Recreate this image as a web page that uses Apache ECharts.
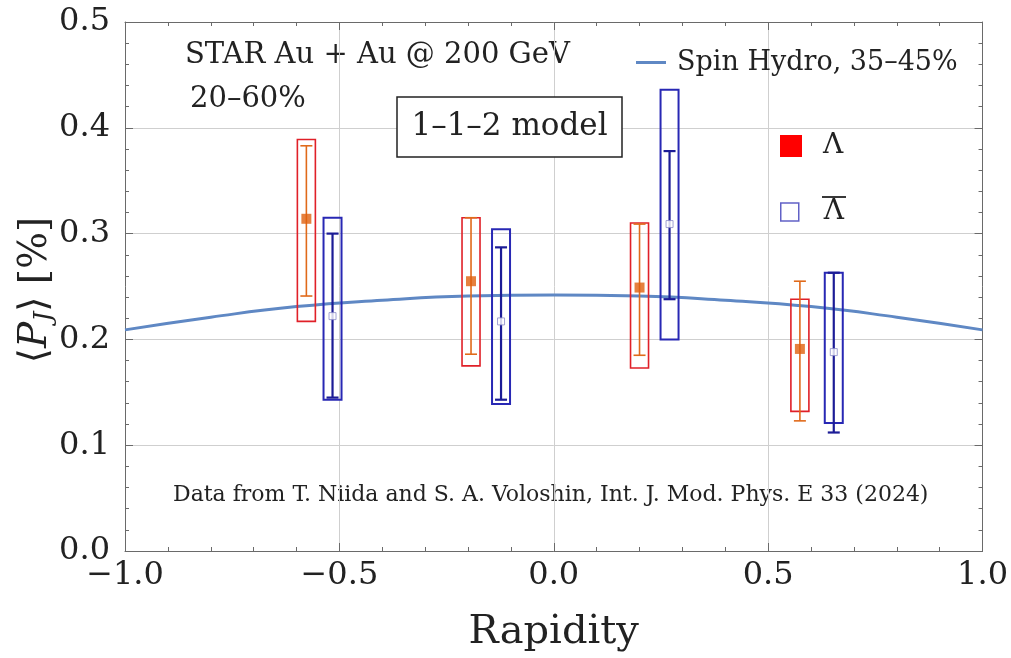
<!DOCTYPE html>
<html>
<head>
<meta charset="utf-8">
<script src="https://cdn.jsdelivr.net/npm/echarts@6/dist/echarts.min.js"></script>
<style>html,body{margin:0;padding:0;background:#fff}#c{width:1011px;height:658px}</style>
</head>
<body>
<div id="c"></div>
<script>
// Lambda data
const rapL = [-0.577, -0.193, 0.200, 0.574];
const valL = [0.314, 0.255, 0.249, 0.191];
const statLoL = [0.241, 0.186, 0.185, 0.123];
const statHiL = [0.383, 0.315, 0.309, 0.255];
const sysLoL = [0.217, 0.175, 0.173, 0.132];
const sysHiL = [0.389, 0.315, 0.310, 0.238];
// Anti-Lambda data
const rapA = [-0.516, -0.123, 0.270, 0.653];
const valA = [0.222, 0.217, 0.309, 0.188];
const statLoA = [0.145, 0.143, 0.238, 0.112];
const statHiA = [0.300, 0.287, 0.378, 0.263];
const sysLoA = [0.143, 0.139, 0.200, 0.121];
const sysHiA = [0.315, 0.304, 0.436, 0.263];
// Spin hydro curve (35-45%)
const hydroRap = [-1.0, -0.8, -0.6, -0.4, -0.2, 0.0, 0.2, 0.4, 0.6, 0.8, 1.0];
const hydroVal = [0.209, 0.221, 0.231, 0.237, 0.241, 0.242, 0.241, 0.237, 0.231, 0.221, 0.209];
// Ticks
const xTicks = [-1.0, -0.5, 0.0, 0.5, 1.0];
const yTicks = [0.0, 0.1, 0.2, 0.3, 0.4, 0.5];

const FONT = 'DejaVu Serif';
const nameL = 'Λ';
const nameA = 'antiΛ';

function boxSeries(rap, lo, hi, color, w) {
  return {
    type: 'custom', silent: true, z: 3,
    data: rap.map((r, i) => [r, lo[i], hi[i]]),
    renderItem: function (params, api) {
      const p1 = api.coord([api.value(0), api.value(2)]);
      const p2 = api.coord([api.value(0), api.value(1)]);
      return { type: 'rect', shape: { x: p1[0] - 9, y: p1[1], width: 18, height: p2[1] - p1[1] },
        style: { fill: 'none', stroke: color, lineWidth: w } };
    }
  };
}
function errSeries(rap, lo, hi, color, w) {
  return {
    type: 'custom', silent: true, z: 4,
    data: rap.map((r, i) => [r, lo[i], hi[i]]),
    renderItem: function (params, api) {
      const p1 = api.coord([api.value(0), api.value(2)]);
      const p2 = api.coord([api.value(0), api.value(1)]);
      const st = { stroke: color, lineWidth: w };
      return { type: 'group', children: [
        { type: 'line', shape: { x1: p1[0], y1: p1[1], x2: p2[0], y2: p2[1] }, style: st },
        { type: 'line', shape: { x1: p1[0] - 6, y1: p1[1], x2: p1[0] + 6, y2: p1[1] }, style: st },
        { type: 'line', shape: { x1: p2[0] - 6, y1: p2[1], x2: p2[0] + 6, y2: p2[1] }, style: st }
      ] };
    }
  };
}

const fmt = v => (Math.abs(v) < 1e-9 ? '0.0' : v.toFixed(1).replace('-', '−'));

const chart = echarts.init(document.getElementById('c'), null, { renderer: 'canvas' });
const axisLineStyle = { color: '#6a6a6a', width: 1 };
chart.setOption({
  animation: false,
  backgroundColor: '#fff',
  textStyle: { fontFamily: FONT },
  grid: { left: 125, right: 28, top: 22, bottom: 107, show: false },
  legend: [
    { data: [{ name: 'Spin Hydro, 35–45%', icon: 'rect', itemStyle: { color: '#5f88c4' } }],
      left: 631, top: 44, itemWidth: 30, itemHeight: 3, itemGap: 10,
      textStyle: { fontFamily: FONT, fontSize: 27, color: '#222', padding: [0, 0, 0, 6] } },
    { data: [{ name: nameL, icon: 'rect', itemStyle: { color: '#ff0000', borderWidth: 0, opacity: 1 } }],
      left: 775, top: 127, itemWidth: 22, itemHeight: 22,
      textStyle: { fontFamily: FONT, fontSize: 28, color: '#222', padding: [0, 0, 0, 16] } },
    { data: [{ name: nameA, icon: 'rect', itemStyle: { color: '#ffffff', borderColor: '#3a3ab8', borderWidth: 1.5 } }],
      left: 775, top: 193, itemWidth: 18, itemHeight: 18, formatter: () => 'Λ',
      textStyle: { fontFamily: FONT, fontSize: 28, color: '#222', padding: [0, 0, 0, 20] } }
  ],
  xAxis: [
    { type: 'value', min: -1, max: 1, interval: 0.5,
      axisLine: { show: true, onZero: false, lineStyle: axisLineStyle },
      axisTick: { show: true, inside: true, length: 8, lineStyle: axisLineStyle },
      minorTick: { show: true, splitNumber: 5, length: 4, lineStyle: axisLineStyle },
      splitLine: { show: true, lineStyle: { color: '#cfcfcf', width: 1 } },
      axisLabel: { formatter: fmt, fontFamily: FONT, fontSize: 32, color: '#222', margin: 9 },
      name: 'Rapidity', nameLocation: 'middle', nameGap: 62,
      nameTextStyle: { fontFamily: FONT, fontSize: 40, color: '#222' } },
    { type: 'value', min: -1, max: 1, interval: 0.5, position: 'top',
      axisLine: { show: true, onZero: false, lineStyle: axisLineStyle },
      axisTick: { show: true, inside: true, length: 8, lineStyle: axisLineStyle },
      minorTick: { show: true, splitNumber: 5, length: 4, lineStyle: axisLineStyle },
      splitLine: { show: false }, axisLabel: { show: false } }
  ],
  yAxis: [
    { type: 'value', min: 0, max: 0.5, interval: 0.1,
      axisLine: { show: true, onZero: false, lineStyle: axisLineStyle },
      axisTick: { show: true, inside: true, length: 8, lineStyle: axisLineStyle },
      minorTick: { show: true, splitNumber: 5, length: 4, lineStyle: axisLineStyle },
      splitLine: { show: true, lineStyle: { color: '#cfcfcf', width: 1 } },
      axisLabel: { formatter: v => v.toFixed(1), fontFamily: FONT, fontSize: 32, color: '#222', margin: 15 } },
    { type: 'value', min: 0, max: 0.5, interval: 0.1, position: 'right',
      axisLine: { show: true, onZero: false, lineStyle: axisLineStyle },
      axisTick: { show: true, inside: true, length: 8, lineStyle: axisLineStyle },
      minorTick: { show: true, splitNumber: 5, length: 4, lineStyle: axisLineStyle },
      splitLine: { show: false }, axisLabel: { show: false } }
  ],
  series: [
    { name: 'Spin Hydro, 35–45%', type: 'line', smooth: true, symbol: 'none', z: 2,
      data: hydroRap.map((r, i) => [r, hydroVal[i]]),
      lineStyle: { color: '#5f88c4', width: 3 }, itemStyle: { color: '#5f88c4' } },
    boxSeries(rapL, sysLoL, sysHiL, '#e02028', 1.6),
    errSeries(rapL, statLoL, statHiL, '#e06a1a', 1.6),
    boxSeries(rapA, sysLoA, sysHiA, '#2828b4', 2),
    errSeries(rapA, statLoA, statHiA, '#1c1c96', 2.2),
    { name: nameL, type: 'scatter', symbol: 'rect', symbolSize: 10, z: 5,
      data: rapL.map((r, i) => [r, valL[i]]), itemStyle: { color: '#e0600e' } },
    { name: nameA, type: 'scatter', symbol: 'rect', symbolSize: 7, z: 5,
      data: rapA.map((r, i) => [r, valA[i]]), itemStyle: { color: '#ffffff', borderColor: '#8a8ac8', borderWidth: 1 } }
  ],
  graphic: [
    { type: 'text', x: 36, y: 290, rotation: Math.PI / 2, z: 20,
      style: { text: '⟨{i|P}{s|J}⟩ [%]', align: 'center', verticalAlign: 'middle',
        font: '39px "DejaVu Serif"', fill: '#222',
        rich: { i: { fontFamily: FONT, fontStyle: 'italic', fontSize: 39, fill: '#222' },
                s: { fontFamily: FONT, fontStyle: 'italic', fontSize: 25, fill: '#222', verticalAlign: 'bottom', padding: [16, 0, 0, 0] } } } },
    { type: 'text', left: 185, top: 41, style: { text: 'STAR Au + Au @ 200 GeV', font: '29px "DejaVu Serif"', fill: '#222' } },
    { type: 'text', left: 190, top: 85, style: { text: '20–60%', font: '29px "DejaVu Serif"', fill: '#222' } },
    { type: 'rect', shape: { x: 397, y: 97, width: 225, height: 60 }, style: { fill: '#fff', stroke: '#222', lineWidth: 1.5 }, z: 10 },
    { type: 'text', x: 509.5, y: 127, z: 11, style: { text: '1–1–2 model', font: '31px "DejaVu Serif"', fill: '#222', align: 'center', verticalAlign: 'middle' } },
    { type: 'text', left: 173, top: 484, style: { text: 'Data from T. Niida and S. A. Voloshin, Int. J. Mod. Phys. E 33 (2024)', font: '22px "DejaVu Serif"', fill: '#222' } },
    { type: 'line', shape: { x1: 822, y1: 197, x2: 846, y2: 197 }, style: { stroke: '#222', lineWidth: 1.8 } }
  ]
});
</script>
</body>
</html>
